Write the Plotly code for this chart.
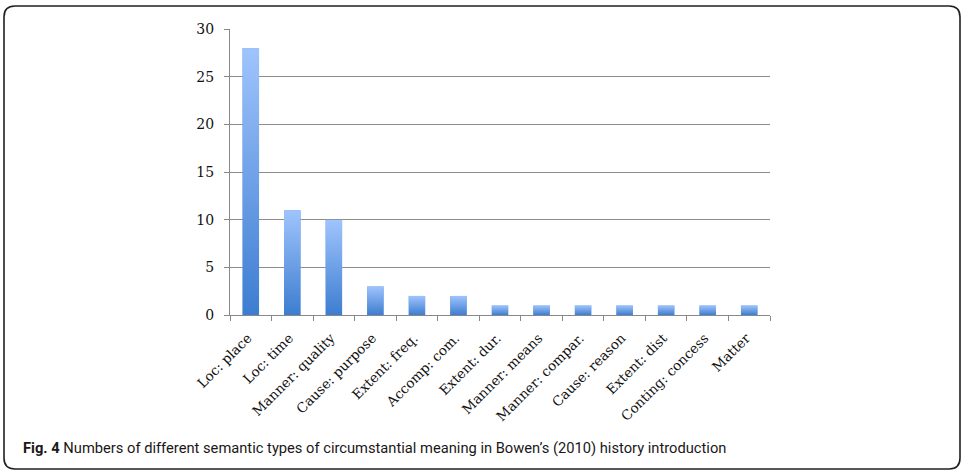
import plotly.graph_objects as go

categories = ["Loc: place", "Loc: time", "Manner: quality", "Cause: purpose", "Extent: freq.",
              "Accomp: com.", "Extent: dur.", "Manner: means", "Manner: compar.", "Cause: reason",
              "Extent: dist", "Conting: concess", "Matter"]
values = [28, 11, 10, 3, 2, 2, 1, 1, 1, 1, 1, 1, 1]
y_ticks = [0, 5, 10, 15, 20, 25, 30]
caption_bold = "Fig. 4"
caption_text = "Numbers of different semantic types of circumstantial meaning in Bowen\u2019s (2010) history introduction"

W, H = 962, 471
ML, MR, MT, MB = 230, 192, 29, 156
PW, PH = W - ML - MR, H - MT - MB

def px(x):
    return (x - ML) / PW

def py(y):
    return (H - MB - y) / PH

BAR_W = 0.4
grad_svg = ("data:image/svg+xml;utf8,"
            "<svg xmlns='http://www.w3.org/2000/svg' width='10' height='100' viewBox='0 0 10 100' preserveAspectRatio='none'>"
            "<defs><linearGradient id='g' x1='0' y1='0' x2='0' y2='1'>"
            "<stop offset='0' stop-color='%239fc4fd'/><stop offset='1' stop-color='%233d7dd0'/>"
            "</linearGradient></defs><rect width='10' height='100' fill='url(%23g)'/></svg>")

fig = go.Figure()
fig.add_trace(go.Bar(x=categories, y=values, width=BAR_W,
                     marker=dict(color="#6c9fe6", line=dict(width=0)),
                     hoverinfo="x+y"))

images = []
for i, v in enumerate(values):
    images.append(dict(source=grad_svg, xref="x", yref="y", x=i - BAR_W / 2, y=v,
                       sizex=BAR_W, sizey=v, xanchor="left", yanchor="top",
                       sizing="stretch", layer="above"))

r = 11
x0, x1, y0, y1 = 4, 960, 6, 469
path = (f"M {px(x0 + r)},{py(y0)} L {px(x1 - r)},{py(y0)} Q {px(x1)},{py(y0)} {px(x1)},{py(y0 + r)} "
        f"L {px(x1)},{py(y1 - r)} Q {px(x1)},{py(y1)} {px(x1 - r)},{py(y1)} "
        f"L {px(x0 + r)},{py(y1)} Q {px(x0)},{py(y1)} {px(x0)},{py(y1 - r)} "
        f"L {px(x0)},{py(y0 + r)} Q {px(x0)},{py(y0)} {px(x0 + r)},{py(y0)} Z")

fig.update_layout(
    width=W, height=H,
    margin=dict(l=ML, r=MR, t=MT, b=MB, pad=0),
    paper_bgcolor="white", plot_bgcolor="white",
    showlegend=False,
    images=images,
    shapes=[dict(type="path", path=path, xref="paper", yref="paper",
                 line=dict(color="#231f20", width=1.6), fillcolor="rgba(0,0,0,0)", layer="above")],
    annotations=[dict(x=px(21), y=py(448), xref="paper", yref="paper", xanchor="left", yanchor="middle",
                      text=f"<b>{caption_bold}</b> {caption_text}", showarrow=False,
                      font=dict(family="Roboto", size=14.7, color="#1a1718"))],
    xaxis=dict(type="category", tickson="boundaries", ticks="outside", ticklen=5, tickcolor="#888888",
               showline=True, linecolor="#888888", linewidth=1, showgrid=False,
               tickangle=-45, tickfont=dict(family="DejaVu Serif", size=13.5, color="#111111"),
               ticklabelstandoff=9, ticklabelshift=-3,
               range=[-0.5, len(categories) - 0.5]),
    yaxis=dict(range=[0, 30], tickvals=y_ticks, ticks="outside", ticklen=5, tickcolor="#888888",
               showline=True, linecolor="#888888", linewidth=1,
               showgrid=True, gridcolor="#8c8c8c", gridwidth=1, zeroline=False,
               ticklabelstandoff=7,
               tickfont=dict(family="DejaVu Serif", size=14, color="#111111")),
)

fig.write_html("out.html", config={"displayModeBar": False},
               post_script="document.body.style.margin='0';document.body.style.overflow='hidden';")
